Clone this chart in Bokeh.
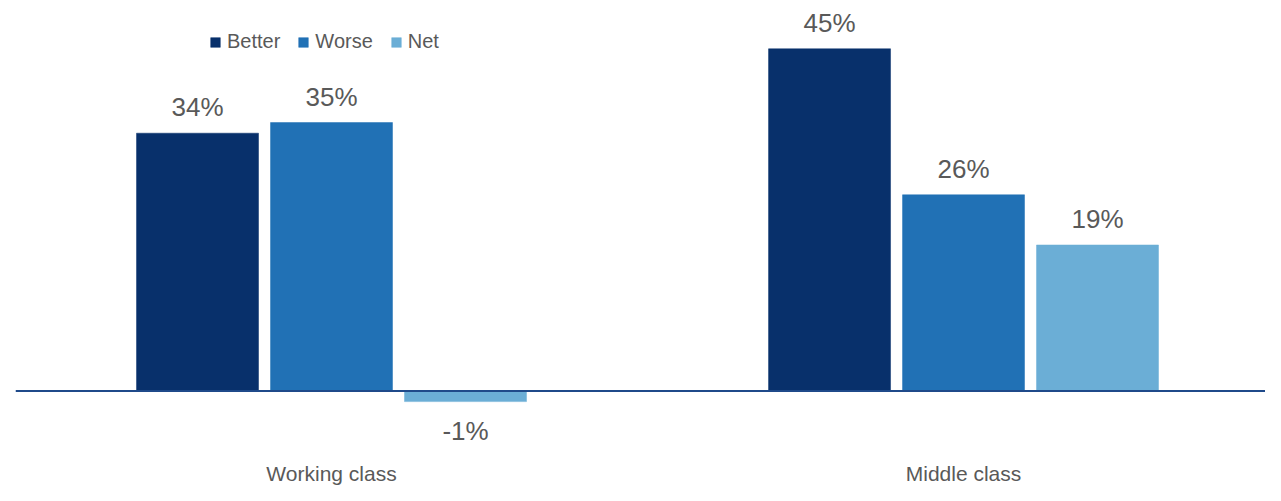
from bokeh.plotting import figure
from bokeh.models import ColumnDataSource, Range1d, Span
from bokeh.transform import dodge
from bokeh.core.properties import value
from bokeh.embed import file_html
from bokeh.resources import INLINE

categories = ["Working class", "Middle class"]
series = ["Better", "Worse", "Net"]
better = [33.9, 45.0]
worse = [35.3, 25.8]
net = [-1.4, 19.2]
colors = ["#08306B", "#2171B5", "#6BAED6"]

FONT = "Liberation Sans"
TEXT_COLOR = "#595959"

values = {"Better": better, "Worse": worse, "Net": net}
xs = list(range(len(categories)))
src = ColumnDataSource(dict(x=xs, cat=categories, **values))

p = figure(width=1265, height=485,
           x_range=Range1d(-0.5, 1.4778), y_range=Range1d(-12.43, 51.35),
           x_axis_type=None, y_axis_type=None,
           output_backend="svg", toolbar_location=None,
           min_border_left=15, min_border_right=0,
           min_border_top=0, min_border_bottom=0)
p.grid.visible = False
p.outline_line_color = None
p.background_fill_color = "white"

BAR_W = 0.193
STEP = 0.212

lx, ly, lt, lo = [], [], [], []
for i, name in enumerate(series):
    off = (i - 1) * STEP
    p.vbar(x=dodge("x", off, range=p.x_range), top=name, bottom=0, width=BAR_W,
           source=src, fill_color=colors[i], line_color=colors[i], line_width=0.5,
           legend_label=name)
    for j, v in enumerate(values[name]):
        lx.append(xs[j] + off)
        ly.append(v)
        lt.append(f"{round(v)}%")
        lo.append(-26 if v >= 0 else 29)

lab_src = ColumnDataSource(dict(x=lx, y=ly, text=lt, yo=lo))
p.text(x="x", y="y", text="text", y_offset="yo", source=lab_src,
       text_align="center", text_baseline="alphabetic",
       text_font=value(FONT), text_font_size="26px", text_color=TEXT_COLOR)

p.text(x="x", y=p.y_range.start, text="cat", source=src, y_offset=-12,
       text_align="center", text_baseline="alphabetic",
       text_font=value(FONT), text_font_size="21px", text_color=TEXT_COLOR)

p.add_layout(Span(location=0, dimension="width", line_color="#1F4A8A", line_width=2))

lg = p.legend[0]
lg.location = (194, 432)
lg.orientation = "horizontal"
lg.label_text_font = FONT
lg.label_text_font_size = "20px"
lg.label_text_color = TEXT_COLOR
lg.glyph_width = 12
lg.glyph_height = 12
lg.label_standoff = 6
lg.spacing = 17
lg.padding = 0
lg.margin = 0
lg.border_line_color = None
lg.background_fill_alpha = 0

open("out.html", "w").write(file_html(p, INLINE))
